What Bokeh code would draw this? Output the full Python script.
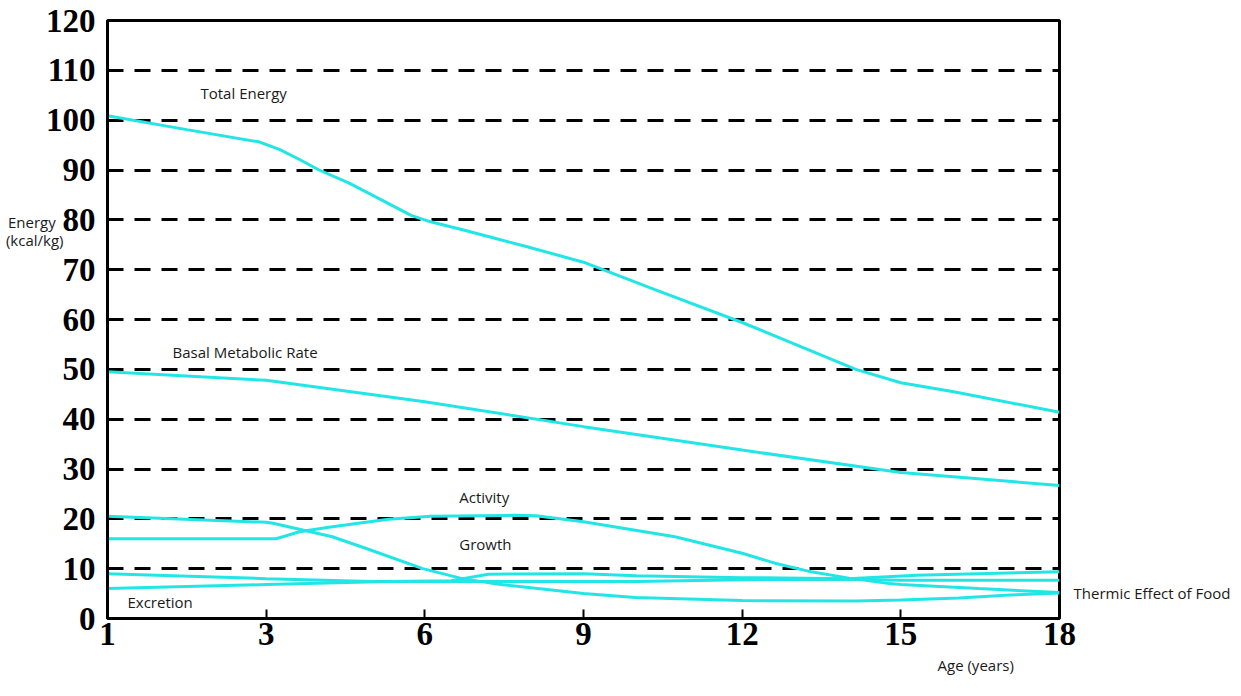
import numpy as np
from bokeh.plotting import figure
from bokeh.models import Range1d, FixedTicker, Label, Title, LinearAxis
from bokeh.embed import file_html
from bokeh.resources import INLINE

# ---- data ----
tick_ages = [1, 3, 6, 9, 12, 15, 18]
y_ticks = list(range(0, 121, 10))

total_age = [1, 2, 2.92, 3.26, 3.63, 4.0, 4.56, 5.18, 5.74, 6.11, 6.75, 7.36, 7.9, 9, 10.35, 12, 14.15, 15, 16, 18]
total_val = [100.9, 98.1, 95.6, 94.1, 92.1, 90.0, 87.4, 84.0, 80.9, 79.6, 77.9, 76.2, 74.7, 71.5, 66.0, 59.4, 50.0, 47.3, 45.5, 41.4]

bmr_age = [1, 3, 6, 9, 12, 15, 18]
bmr_val = [49.5, 47.8, 43.5, 38.5, 33.8, 29.3, 26.7]

activity_age = [1, 3.19, 3.63, 4.25, 5.31, 6.11, 7.68, 8.1, 9, 10.73, 12, 12.62, 13.25, 14.02, 14.79, 15, 16.47, 18]
activity_val = [16.0, 16.0, 17.4, 18.4, 19.9, 20.5, 20.7, 20.6, 19.4, 16.4, 13.1, 11.1, 9.5, 8.1, 7.0, 6.8, 6.0, 5.2]

growth_age = [1, 3, 3.13, 4.25, 4.88, 5.96, 6.67, 7.36, 9, 9.98, 12, 14.15, 15, 16.1, 17.06, 18]
growth_val = [20.5, 19.3, 19.1, 16.4, 14.1, 10.0, 8.1, 6.9, 5.0, 4.2, 3.6, 3.5, 3.7, 4.1, 4.7, 5.1]

excretion_age = [1, 3, 5.3, 6.5, 7.2, 9, 10, 12, 14, 15.3, 18]
excretion_val = [6.0, 6.8, 7.4, 7.6, 8.9, 9.0, 8.6, 8.2, 8.0, 8.7, 9.4]

tef_age = [1, 3, 5, 9, 10, 12, 14, 15, 18]
tef_val = [9.0, 8.0, 7.4, 7.4, 7.4, 7.8, 7.9, 7.7, 7.7]

series = [
    (total_age, total_val),
    (bmr_age, bmr_val),
    (activity_age, activity_val),
    (growth_age, growth_val),
    (excretion_age, excretion_val),
    (tef_age, tef_val),
]

tick_pos = list(range(len(tick_ages)))


def pos(ages):
    return np.interp(ages, tick_ages, tick_pos)


p = figure(width=1241, height=696, x_range=Range1d(0, 6), y_range=Range1d(0, 120),
           output_backend="svg", toolbar_location=None,
           min_border_left=107, min_border_right=182, min_border_top=20, min_border_bottom=78)

p.background_fill_color = "white"
p.border_fill_color = "white"
p.outline_line_color = "black"
p.outline_line_width = 3

p.xaxis.ticker = FixedTicker(ticks=tick_pos)
p.xaxis.major_label_overrides = {i: str(a) for i, a in zip(tick_pos, tick_ages)}
p.yaxis.ticker = FixedTicker(ticks=y_ticks)

for ax in (p.xaxis, p.yaxis):
    ax.axis_line_color = "black"
    ax.axis_line_width = 3
    ax.minor_tick_line_color = None
    ax.major_label_text_font = "Liberation Serif"
    ax.major_label_text_font_size = "33px"
    ax.major_label_text_font_style = "bold"
    ax.major_label_text_color = "black"

p.xaxis.major_tick_in = 9
p.xaxis.major_tick_out = 0
p.xaxis.major_tick_line_width = 2
p.xaxis.major_tick_line_color = "black"
p.xaxis.major_label_standoff = 4

p.yaxis.major_tick_in = 0
p.yaxis.major_tick_out = 0
p.yaxis.major_label_standoff = 12

p.xgrid.visible = False
p.ygrid.grid_line_color = "black"
p.ygrid.grid_line_width = 3
p.ygrid.grid_line_dash = "16 11"

for ages, vals in series:
    p.line(pos(ages), vals, line_color="#22E6E6", line_width=3)

FONT = "Open Sans"
FS = "15px"
TXT = "#1a1a1a"

labels = [
    ("Total Energy", 0.586, 105.5),
    ("Basal Metabolic Rate", 0.41, 53.5),
    ("Activity", 2.217, 24.4),
    ("Growth", 2.217, 15.0),
    ("Excretion", 0.126, 3.4),
]
for txt, x, y in labels:
    p.add_layout(Label(x=x, y=y, text=txt, text_font=FONT, text_font_size=FS,
                       text_color=TXT, text_align="left", text_baseline="middle"))

# y-axis title (two lines) carried by a second left axis, outside the tick labels
e1, e2 = 79.5, 75.9
NB = "\u00a0"
title_ax = LinearAxis(ticker=FixedTicker(ticks=[e1, e2]),
                      major_label_overrides={e1: "Energy" + NB * 2, e2: "(kcal/kg)"},
                      axis_line_color=None, major_tick_line_color=None, minor_tick_line_color=None,
                      major_tick_in=0, major_tick_out=0, major_label_standoff=-21,
                      major_label_text_font=FONT, major_label_text_font_size=FS,
                      major_label_text_color=TXT)
p.add_layout(title_ax, "left")

# series name to the right of the frame, carried by a right axis
tef_label_y = 5.15
right_ax = LinearAxis(ticker=FixedTicker(ticks=[tef_label_y]),
                      major_label_overrides={tef_label_y: "Thermic Effect of Food"},
                      axis_line_color=None, major_tick_line_color=None, minor_tick_line_color=None,
                      major_tick_in=0, major_tick_out=0, major_label_standoff=14,
                      major_label_text_font=FONT, major_label_text_font_size=FS,
                      major_label_text_color=TXT)
p.add_layout(right_ax, "right")

p.add_layout(Title(text="Age (years)", align="left", offset=830, text_font=FONT,
                   text_font_size=FS, text_font_style="normal", text_color=TXT), "below")

open("out.html", "w").write(file_html(p, INLINE))
